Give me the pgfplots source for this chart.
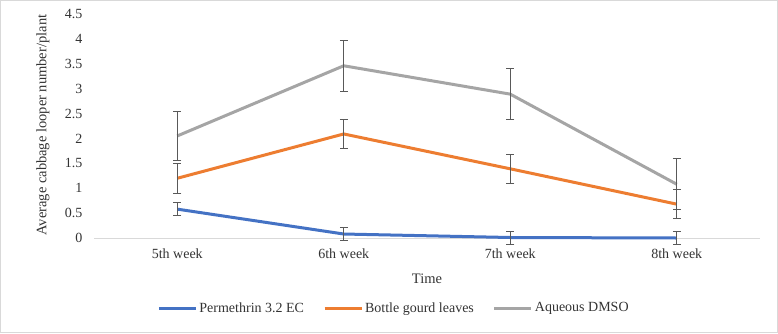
\documentclass[border=0pt]{standalone}
\usepackage{pgfplots}
\pgfplotsset{compat=1.18}
\usepackage{fontspec}
\setmainfont{Liberation Serif}
\definecolor{cblue}{HTML}{4472C4}
\definecolor{corange}{HTML}{ED7D31}
\definecolor{cgray}{HTML}{A5A5A5}
\definecolor{ebar}{HTML}{595959}
\definecolor{frame}{HTML}{D9D9D9}
\begin{document}
\begin{tikzpicture}[x=1pt,y=1pt]
\useasboundingbox (0,0) rectangle (778,333);
\draw[frame,line width=0.8pt] (0.5,0.5) rectangle (777.5,332.5);
\begin{axis}[
  at={(94pt,95pt)}, anchor=south west,
  scale only axis, width=666pt, height=224pt,
  xmin=-0.5, xmax=3.5, ymin=0, ymax=4.5,
  axis line style={draw=none},
  xtick={0,1,2,3}, xticklabels={5th week,6th week,7th week,8th week},
  ytick={0,0.5,1,1.5,2,2.5,3,3.5,4,4.5},
  yticklabels={0,0.5,1,1.5,2,2.5,3,3.5,4,4.5},
  major tick length=0pt,
  tick label style={font=\fontsize{14}{16}\selectfont, text=black!80},
  /pgf/number format/assume math mode=true,
  xticklabel style={yshift=-7pt},
  yticklabel style={xshift=-8pt},
  xlabel={Time}, ylabel={Average cabbage looper number/plant},
  label style={font=\fontsize{14.5}{16}\selectfont, text=black!80},
  xlabel style={at={(axis description cs:0.5,-0.18)}, anchor=center},
  ylabel style={at={(axis description cs:-0.0766,0.504)}, anchor=center},
  legend style={at={(0.4505,-0.3125)}, anchor=center, draw=none, fill=none,
    legend columns=3, font=\fontsize{14}{16}\selectfont, text=black!80,
    /tikz/every even column/.append style={column sep=17pt}},
  legend image code/.code={\draw[#1,line width=3pt] (0pt,0pt) -- (37pt,0pt);},
  legend cell align=left,
  clip=false,
]
\draw[frame,line width=0.8pt] (axis cs:-0.5,0) -- (axis cs:3.5,0);
\addplot[cblue, line width=3pt,
  error bars/.cd, y dir=both, y explicit,
  error bar style={ebar,line width=0.9pt},
  error mark options={ebar,rotate=90,mark size=4pt,line width=0.9pt}]
  coordinates {(0,0.58) +- (0,0.13) (1,0.08) +- (0,0.13) (2,0.01) +- (0,0.13) (3,0.0) +- (0,0.13)};
\addlegendentry{Permethrin 3.2 EC}
\addplot[corange, line width=3pt,
  error bars/.cd, y dir=both, y explicit,
  error bar style={ebar,line width=0.9pt},
  error mark options={ebar,rotate=90,mark size=4pt,line width=0.9pt}]
  coordinates {(0,1.2) +- (0,0.3) (1,2.09) +- (0,0.29) (2,1.39) +- (0,0.29) (3,0.68) +- (0,0.29)};
\addlegendentry{Bottle gourd leaves}
\addplot[cgray, line width=3pt,
  error bars/.cd, y dir=both, y explicit,
  error bar style={ebar,line width=0.9pt},
  error mark options={ebar,rotate=90,mark size=4pt,line width=0.9pt}]
  coordinates {(0,2.05) +- (0,0.5) (1,3.46) +- (0,0.51) (2,2.89) +- (0,0.51) (3,1.08) +- (0,0.51)};
\addlegendentry{Aqueous DMSO}
\end{axis}
\end{tikzpicture}
\end{document}
